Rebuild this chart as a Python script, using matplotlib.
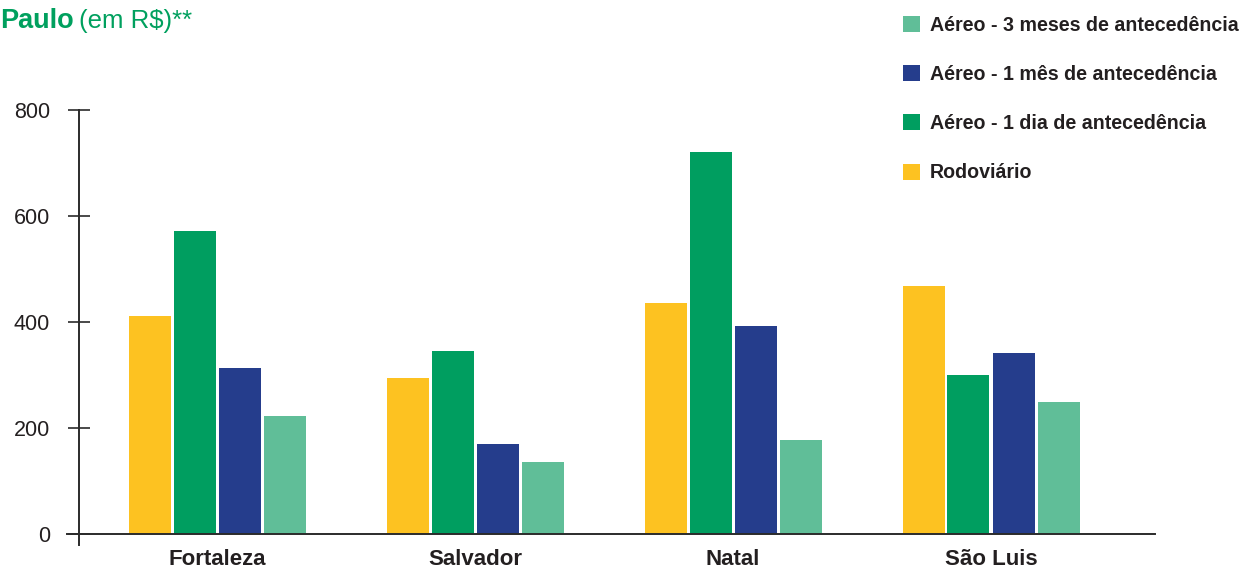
import matplotlib
matplotlib.use("Agg")
import matplotlib.pyplot as plt
import numpy as np

plt.rcParams['font.family'] = ['Liberation Sans', 'DejaVu Sans']

cities = ["Fortaleza", "Salvador", "Natal", "São Luis"]
series_names = ["Rodoviário", "Aéreo - 1 dia de antecedência",
                "Aéreo - 1 mês de antecedência", "Aéreo - 3 meses de antecedência"]
rodoviario = [412, 295, 436, 469]
aereo_1dia = [572, 346, 721, 301]
aereo_1mes = [314, 170, 393, 342]
aereo_3meses = [223, 136, 178, 250]
yticks = [0, 200, 400, 600, 800]

colors = ["#FDC221", "#009E60", "#253D8C", "#60BE98"]
values = [rodoviario, aereo_1dia, aereo_1mes, aereo_3meses]

W, H = 1240, 569
fig = plt.figure(figsize=(W / 100, H / 100), dpi=100)
x0, x1 = 67, 1155
ytop, ybot = 110.5, 545
ax = fig.add_axes([x0 / W, 1 - ybot / H, (x1 - x0) / W, (ybot - ytop) / H])

unit = 258.0
bw = 42 / unit
step = 45 / unit
x = np.arange(len(cities))
bars = []
for i, (vals, c) in enumerate(zip(values, colors)):
    b = ax.bar(x + (i - 1.5) * step, vals, width=bw, color=c, label=series_names[i], zorder=2)
    bars.append(b)

ax.set_xlim(-(217 - x0) / unit, (x1 - 217) / unit)
ax.set_ylim(-20.5, 800)

for s in ["top", "right"]:
    ax.spines[s].set_visible(False)
ax.spines['bottom'].set_position(('data', 0))
ax.spines['left'].set_position(('data', -(217 - 79) / unit))
for s in ['bottom', 'left']:
    ax.spines[s].set_color("#2b2b2b")
    ax.spines[s].set_linewidth(1.4)
ax.spines['bottom'].set_zorder(3)

ax.set_yticks(yticks)
ax.set_yticklabels([str(v) for v in yticks])
ax.tick_params(axis='y', direction='inout', length=16.5, width=1.2, color="#2b2b2b",
               labelsize=15.5, labelcolor="#231f20", pad=12.5)
ax.set_xticks(x)
ax.set_xticklabels(cities)
ax.tick_params(axis='x', length=0, labelsize=16, labelcolor="#231f20", pad=10.5)
for lbl in ax.get_xticklabels():
    lbl.set_fontweight('bold')

handles = [bars[3], bars[2], bars[1], bars[0]]
labels = [series_names[3], series_names[2], series_names[1], series_names[0]]
leg = fig.legend(handles, labels, loc='upper left', bbox_to_anchor=(895 / W, 1 - 8 / H),
                 frameon=False, fontsize=14.1, handlelength=0.88, handleheight=0.88,
                 handletextpad=0.5, labelspacing=1.54, borderaxespad=0)
for t in leg.get_texts():
    t.set_color("#231f20")
    t.set_fontweight('bold')

green = "#00A05E"
t1 = fig.text(0 / W, 1 - 21 / H, "Paulo", fontsize=19.5, fontweight='bold', color=green, va='center')
fig.canvas.draw()
bb = t1.get_window_extent()
fig.text((bb.x1 + 5) / W, 1 - 21 / H, "(em R$)**", fontsize=18.5, color=green, va='center')

fig.savefig("out.png", dpi=100)
